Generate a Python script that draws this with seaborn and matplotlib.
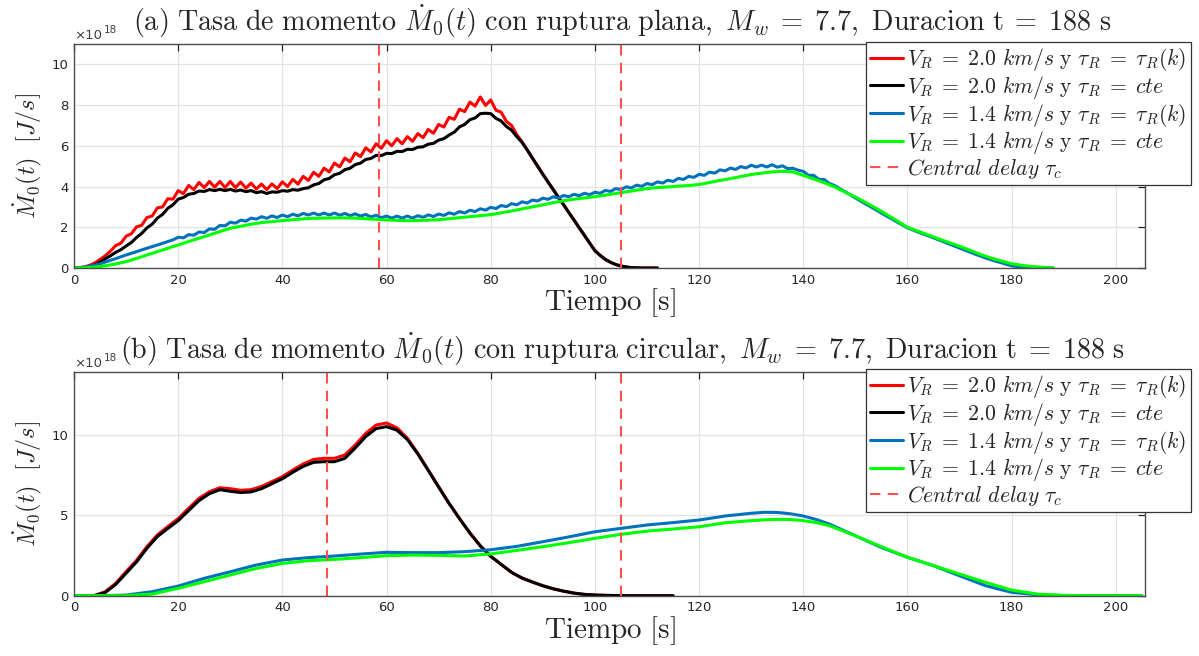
import numpy as np
import matplotlib
matplotlib.use("Agg")
import matplotlib.pyplot as plt
import seaborn as sns

# ---------------- DATA ----------------
# (a) planar rupture  (x1e18 J/s)
t_a_fast = np.arange(0, 113, 1)
a_red = [0, 0.01, 0.05, 0.13, 0.25, 0.42, 0.6, 0.83, 1.1, 1.22,
         1.56, 1.68, 2.02, 2.1, 2.48, 2.55, 2.95, 3.0, 3.4, 3.38,
         3.8, 3.65, 4.05, 3.85, 4.2, 3.95, 4.25, 3.97, 4.25, 3.95,
         4.25, 3.95, 4.22, 3.92, 4.17, 3.88, 4.12, 3.85, 4.13, 3.9,
         4.23, 4.0, 4.35, 4.12, 4.5, 4.3, 4.7, 4.5, 4.9, 4.72,
         5.15, 4.97, 5.4, 5.22, 5.65, 5.47, 5.9, 5.7, 6.1, 5.88,
         6.25, 6.0, 6.35, 6.1, 6.45, 6.22, 6.6, 6.4, 6.8, 6.62,
         7.05, 6.92, 7.4, 7.3, 7.8, 7.68, 8.15, 7.95, 8.4, 7.98,
         8.25, 7.75, 7.65, 7.2, 7.0, 6.55, 6.2, 5.8, 5.4, 5.0,
         4.62, 4.23, 3.85, 3.47, 3.1, 2.72, 2.35, 1.97, 1.6, 1.22,
         0.85, 0.62, 0.42, 0.28, 0.17, 0.1, 0.05, 0.02, 0.01, 0,
         0, 0, 0]
a_black = [0, 0, 0.02, 0.07, 0.15, 0.28, 0.45, 0.6, 0.77, 0.9,
           1.08, 1.25, 1.5, 1.7, 1.97, 2.15, 2.45, 2.63, 2.93, 3.1,
           3.38, 3.46, 3.62, 3.66, 3.78, 3.76, 3.85, 3.8, 3.86, 3.8,
           3.86, 3.78, 3.83, 3.75, 3.8, 3.7, 3.75, 3.66, 3.74, 3.72,
           3.8, 3.77, 3.85, 3.82, 3.9, 3.94, 4.08, 4.15, 4.33, 4.4,
           4.58, 4.65, 4.83, 4.9, 5.08, 5.15, 5.33, 5.38, 5.53, 5.52,
           5.63, 5.62, 5.73, 5.72, 5.83, 5.82, 5.93, 5.95, 6.08, 6.12,
           6.28, 6.35, 6.53, 6.67, 6.93, 7.05, 7.28, 7.37, 7.58, 7.6,
           7.58, 7.35, 7.22, 6.95, 6.77, 6.45, 6.17, 5.8, 5.4, 5.0,
           4.6, 4.22, 3.85, 3.47, 3.1, 2.72, 2.35, 1.97, 1.6, 1.22,
           0.85, 0.62, 0.42, 0.28, 0.17, 0.1, 0.05, 0.02, 0.01, 0,
           0, 0, 0]
t_a_slow = np.arange(0, 189, 1)
a_blue = [0, 0.02, 0.05, 0.09, 0.14, 0.2, 0.29, 0.38, 0.46, 0.55,
          0.64, 0.72, 0.8, 0.89, 0.97, 1.05, 1.13, 1.21, 1.3, 1.38,
          1.51, 1.48, 1.64, 1.61, 1.77, 1.74, 1.92, 1.9, 2.09, 2.07,
          2.25, 2.2, 2.35, 2.3, 2.45, 2.4, 2.52, 2.44, 2.56, 2.48,
          2.6, 2.52, 2.64, 2.56, 2.68, 2.6, 2.7, 2.6, 2.7, 2.6,
          2.7, 2.59, 2.68, 2.57, 2.66, 2.55, 2.63, 2.51, 2.59, 2.47,
          2.55, 2.45, 2.55, 2.45, 2.55, 2.45, 2.57, 2.49, 2.61, 2.53,
          2.65, 2.58, 2.71, 2.64, 2.77, 2.7, 2.84, 2.77, 2.91, 2.84,
          2.98, 2.92, 3.07, 3.01, 3.16, 3.1, 3.25, 3.19, 3.34, 3.29,
          3.43, 3.37, 3.5, 3.43, 3.56, 3.5, 3.62, 3.55, 3.67, 3.6,
          3.72, 3.67, 3.81, 3.76, 3.9, 3.85, 3.99, 3.93, 4.07, 4.01,
          4.15, 4.09, 4.23, 4.17, 4.31, 4.25, 4.4, 4.35, 4.5, 4.45,
          4.6, 4.55, 4.71, 4.66, 4.82, 4.77, 4.91, 4.84, 4.98, 4.91,
          5.05, 4.96, 5.05, 4.96, 5.07, 4.95, 5.02, 4.88, 4.9, 4.8,
          4.75, 4.55, 4.55, 4.35, 4.35, 4.15, 4.05, 3.9, 3.75, 3.6,
          3.44, 3.29, 3.14, 3.0, 2.85, 2.7, 2.55, 2.41, 2.26, 2.12,
          1.97, 1.87, 1.77, 1.67, 1.58, 1.48, 1.38, 1.28, 1.18, 1.08,
          0.98, 0.88, 0.78, 0.68, 0.59, 0.49, 0.41, 0.33, 0.26, 0.18,
          0.11, 0.07, 0.04, 0.02, 0.01, 0, 0, 0, 0]
t_a_green = np.arange(0, 189, 2)
a_green = [0, 0.01, 0.04, 0.11, 0.2, 0.31, 0.47, 0.64, 0.8, 0.97,
           1.13, 1.3, 1.46, 1.62, 1.79, 1.95, 2.05, 2.15, 2.23, 2.28,
           2.33, 2.37, 2.41, 2.44, 2.45, 2.46, 2.46, 2.45, 2.42, 2.39,
           2.36, 2.34, 2.32, 2.33, 2.35, 2.37, 2.42, 2.47, 2.52, 2.57,
           2.62, 2.71, 2.8, 2.9, 3.0, 3.1, 3.21, 3.3, 3.38, 3.44,
           3.5, 3.58, 3.66, 3.74, 3.82, 3.9, 3.95, 3.98, 4.02, 4.05,
           4.1, 4.2, 4.3, 4.39, 4.49, 4.59, 4.66, 4.72, 4.75, 4.72,
           4.55, 4.37, 4.19, 3.98, 3.73, 3.49, 3.21, 2.93, 2.63, 2.32,
           2.0, 1.81, 1.62, 1.43, 1.25, 1.07, 0.87, 0.67, 0.49, 0.35,
           0.21, 0.13, 0.07, 0.03, 0]
a_delays = [58.5, 105.0]

# (b) circular rupture  (x1e18 J/s)
t_b_fast = [0, 2, 4, 6, 8, 10, 12, 14, 16, 18, 20, 22, 24, 26, 28, 30,
            32, 34, 36, 38, 40, 42, 44, 46, 48, 50, 52, 54, 56, 58, 60,
            62, 64, 66, 68, 70, 72, 74, 76, 78, 80, 82, 84, 86, 88, 90,
            92, 94, 96, 98, 100, 102, 104, 106, 108, 110, 112, 115]
b_red = [0, 0, 0.02, 0.25, 0.77, 1.5, 2.2, 3.05, 3.78, 4.3, 4.8, 5.44,
         6.06, 6.47, 6.72, 6.66, 6.56, 6.6, 6.8, 7.1, 7.41, 7.82, 8.2,
         8.48, 8.55, 8.55, 8.76, 9.38, 10.1, 10.62, 10.75, 10.45, 9.8,
         8.86, 7.82, 6.78, 5.75, 4.81, 3.9, 3.1, 2.45, 1.95, 1.45, 1.1,
         0.85, 0.62, 0.43, 0.28, 0.16, 0.08, 0.04, 0.02, 0.01, 0, 0, 0,
         0, 0]
b_black = [0, 0, 0.01, 0.2, 0.7, 1.4, 2.1, 2.95, 3.68, 4.18, 4.67, 5.3,
           5.92, 6.35, 6.6, 6.5, 6.42, 6.46, 6.66, 6.97, 7.28, 7.68, 8.05,
           8.3, 8.34, 8.34, 8.55, 9.2, 9.9, 10.4, 10.52, 10.3, 9.72,
           8.82, 7.8, 6.76, 5.74, 4.8, 3.9, 3.1, 2.45, 1.95, 1.45, 1.1,
           0.85, 0.62, 0.43, 0.28, 0.16, 0.08, 0.04, 0.02, 0.01, 0, 0, 0,
           0, 0]
t_b_slow = [0, 5, 10, 15, 20, 25, 30, 35, 40, 45, 50, 55, 60, 65, 70, 75,
            80, 85, 90, 95, 100, 105, 110, 115, 120, 125, 130, 132.5, 135,
            137.5, 140, 142.5, 145, 150, 155, 160, 165, 170, 175, 180, 185,
            190, 195, 200, 205]
b_blue = [0, 0, 0.04, 0.25, 0.6, 1.08, 1.49, 1.91, 2.22, 2.37, 2.47, 2.59,
          2.7, 2.68, 2.68, 2.74, 2.86, 3.07, 3.36, 3.66, 3.98, 4.19, 4.4,
          4.55, 4.71, 4.96, 5.13, 5.19, 5.18, 5.1, 4.96, 4.74, 4.46, 3.73,
          3.0, 2.39, 1.87, 1.24, 0.62, 0.21, 0.06, 0.01, 0, 0, 0]
b_green = [0, 0, 0, 0.1, 0.46, 0.87, 1.29, 1.7, 2.01, 2.18, 2.26, 2.37,
           2.49, 2.53, 2.51, 2.47, 2.6, 2.82, 3.05, 3.3, 3.57, 3.82, 4.02,
           4.15, 4.29, 4.54, 4.67, 4.72, 4.75, 4.74, 4.67, 4.55, 4.36,
           3.73, 3.05, 2.39, 1.87, 1.35, 0.83, 0.35, 0.1, 0.02, 0, 0, 0]
b_delays = [48.5, 105.0]

labels = [r"$V_R\;=\;2.0\ km/s\ \mathrm{y}\ \tau_R\;=\;\tau_R(k)$",
          r"$V_R\;=\;2.0\ km/s\ \mathrm{y}\ \tau_R\;=\;cte$",
          r"$V_R\;=\;1.4\ km/s\ \mathrm{y}\ \tau_R\;=\;\tau_R(k)$",
          r"$V_R\;=\;1.4\ km/s\ \mathrm{y}\ \tau_R\;=\;cte$",
          r"$Central\ delay\ \tau_c$"]
titles = [r"$\mathrm{(a)\ Tasa\ de\ momento\ }\dot{M}_0(t)\mathrm{\ con\ ruptura\ plana,\ }M_w\;=\;7.7\mathrm{,\ Duracion\ t}\;=\;\mathrm{188\ s}$",
          r"$\mathrm{(b)\ Tasa\ de\ momento\ }\dot{M}_0(t)\mathrm{\ con\ ruptura\ circular,\ }M_w\;=\;7.7\mathrm{,\ Duracion\ t}\;=\;\mathrm{188\ s}$"]
xticks = [0, 20, 40, 60, 80, 100, 120, 140, 160, 180, 200]
yticks_a = [0, 2, 4, 6, 8, 10]
yticks_b = [0, 5, 10]

# ---------------- STYLE ----------------
sns.set_style("white")
plt.rcParams["font.family"] = ["DejaVu Sans"]
plt.rcParams["mathtext.fontset"] = "cm"

colors = ["#FF0000", "#000000", "#0072BD", "#00FF00"]
delay_color = "#FF5050"
edge = "#4d4d4d"

fig = plt.figure(figsize=(11.99, 6.56), dpi=100)
ax_a = fig.add_axes([74/1199, 1-268/656, (1145-74)/1199, (268-44)/656])
ax_b = fig.add_axes([74/1199, 1-595.7/656, (1145-74)/1199, (595.7-371.7)/656])


def draw(ax, series, delays, yticks, ylim, title, leg_top):
    for (tx, vals), col, lab in zip(series, colors, labels[:4]):
        sns.lineplot(x=list(tx), y=vals, ax=ax, color=col, lw=2.2,
                     label=lab, estimator=None, sort=False)
    for i, d in enumerate(delays):
        ax.axvline(d, color=delay_color, lw=1.5, ls=(0, (5, 3.5)),
                   label=labels[4] if i == 0 else None)
    ax.set_xlim(0, 205.6)
    ax.set_ylim(*ylim)
    ax.set_xticks(xticks)
    ax.set_yticks(yticks)
    ax.grid(True, color="#e3e3e3", lw=0.9)
    ax.set_axisbelow(True)
    for s in ax.spines.values():
        s.set_color(edge)
        s.set_linewidth(1.0)
    ax.tick_params(direction="in", length=5, width=0.9, color="#262626",
                   labelcolor="#262626", labelsize=9.5, top=True, right=True,
                   pad=4)
    ax.set_xlabel(r"$\mathrm{Tiempo\ [s]}$", fontsize=21, labelpad=0)
    ax.set_ylabel(r"$\dot{M}_0(t)\ \ [J/s]$", fontsize=17.5, labelpad=5)
    ax.set_title(title, fontsize=20.3, pad=9, x=0.512)
    ax.text(0.0, 1.008, "×10", transform=ax.transAxes, fontsize=9.5,
            color="#404040", ha="left", va="bottom")
    ax.text(0.0275, 1.04, "18", transform=ax.transAxes, fontsize=7.5,
            color="#404040", ha="left", va="bottom")
    leg = ax.legend(loc="upper left", bbox_to_anchor=(866/1199, leg_top),
                    bbox_transform=fig.transFigure, borderaxespad=0,
                    fontsize=15.7, handlelength=1.5, handletextpad=0.2,
                    labelspacing=0.03, borderpad=0.2, fancybox=False,
                    framealpha=1, edgecolor="#333333")
    leg.get_frame().set_linewidth(0.9)


draw(ax_a, [(t_a_fast, a_red), (t_a_fast, a_black), (t_a_slow, a_blue),
            (t_a_green, a_green)], a_delays, yticks_a, (0, 11), titles[0],
     1-42/656)
draw(ax_b, [(t_b_fast, b_red), (t_b_fast, b_black), (t_b_slow, b_blue),
            (t_b_slow, b_green)], b_delays, yticks_b, (0, 13.94), titles[1],
     1-369/656)

fig.savefig("out.png", dpi=100)
